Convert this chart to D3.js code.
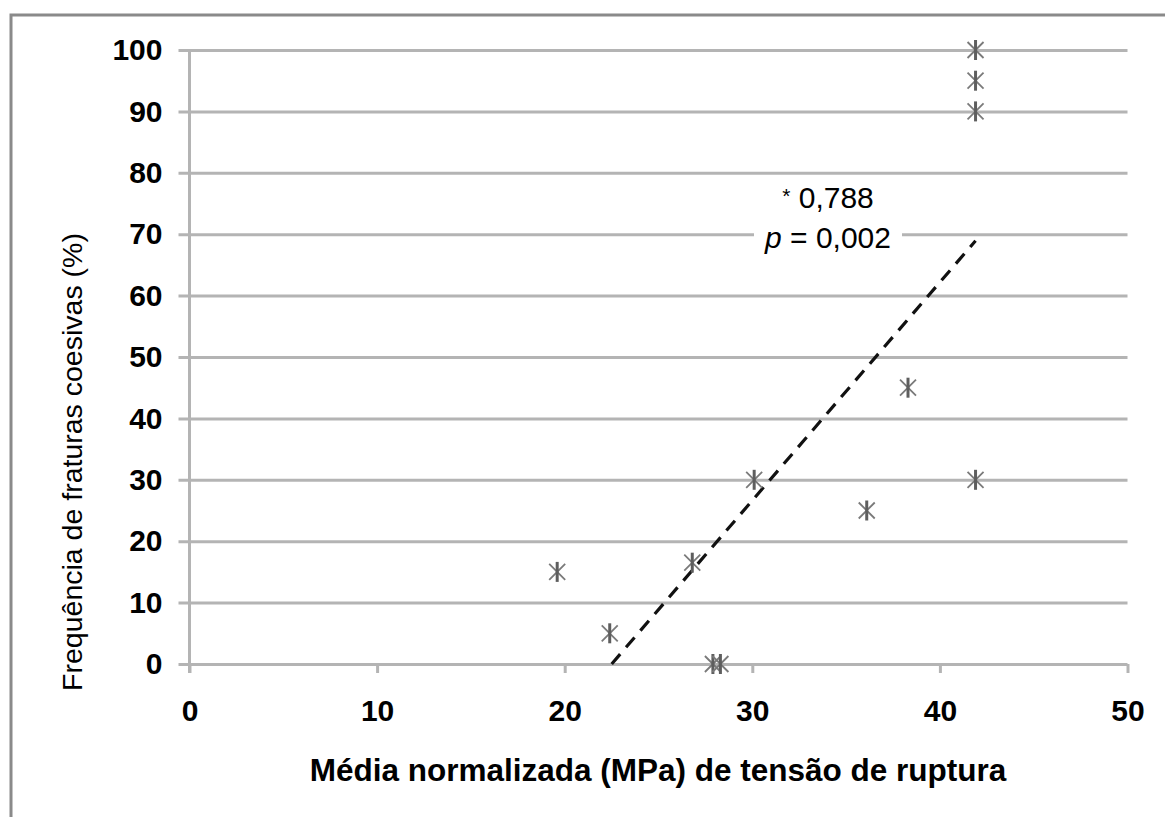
<!DOCTYPE html>
<html>
<head>
<meta charset="utf-8">
<script src="https://cdn.jsdelivr.net/npm/d3@7"></script>
<style>
  html, body { margin: 0; padding: 0; background: #fff; }
  svg { display: block; }
  text { font-family: "Liberation Sans", Arial, sans-serif; fill: #000; }
</style>
</head>
<body>
<svg id="chart" width="1165" height="817"></svg>
<script>
// Mean normalized rupture stress (MPa) for each group
const tensaoMedia = [41.9, 41.9, 41.9, 41.9, 38.3, 36.1, 30.1, 26.8, 19.6, 22.4, 27.9, 28.3];
// Frequency of cohesive fractures (%)
const fraturasCoesivas = [100, 95, 90, 30, 45, 25, 30, 16.5, 15, 5, 0, 0];

const xTicks = [0, 10, 20, 30, 40, 50];
const yTicks = [0, 10, 20, 30, 40, 50, 60, 70, 80, 90, 100];

const xTitle = "Média normalizada (MPa) de tensão de ruptura";
const yTitle = "Frequência de fraturas coesivas (%)";
const coefText = "0,788";
const pText = "0,002";

const points = tensaoMedia.map((x, i) => ({ x, y: fraturasCoesivas[i] }));

const svg = d3.select("#chart");
const plot = { left: 189.5, right: 1127.5, top: 50, bottom: 664 };

const x = d3.scaleLinear().domain([0, 50]).range([plot.left, plot.right]);
const y = d3.scaleLinear().domain([0, 100]).range([plot.bottom, plot.top]);

// outer frame (top and left edges visible)
svg.append("path")
  .attr("d", `M1165,15 H11 V817`)
  .attr("fill", "none")
  .attr("stroke", "#8a8a8a")
  .attr("stroke-width", 3);

const gridColor = "#b4b4b4";

// horizontal gridlines + y labels
const yAxis = d3.axisLeft(y)
  .tickValues(yTicks)
  .tickSize(plot.right - plot.left + 11)
  .tickPadding(16)
  .tickFormat(d3.format("d"));

const gy = svg.append("g")
  .attr("transform", `translate(${plot.right},0)`)
  .call(yAxis);
gy.select(".domain").remove();
gy.selectAll(".tick line").attr("stroke", gridColor).attr("stroke-width", 3);
gy.selectAll(".tick text")
  .attr("font-size", 30)
  .attr("font-weight", "bold")
  .attr("font-family", "'Liberation Sans', Arial, sans-serif")
  .attr("fill", "#000");

// x ticks and labels
const xAxis = d3.axisBottom(x)
  .tickValues(xTicks)
  .tickSize(9)
  .tickPadding(27)
  .tickFormat(d3.format("d"));

const gx = svg.append("g")
  .attr("transform", `translate(0,${plot.bottom})`)
  .call(xAxis);
gx.select(".domain").remove();
gx.selectAll(".tick line").attr("stroke", gridColor).attr("stroke-width", 3);
gx.selectAll(".tick text")
  .attr("font-size", 30)
  .attr("font-weight", "bold")
  .attr("font-family", "'Liberation Sans', Arial, sans-serif")
  .attr("fill", "#000");

// vertical axis line
svg.append("line")
  .attr("x1", x(0)).attr("x2", x(0))
  .attr("y1", y(100)).attr("y2", y(0) + 9)
  .attr("stroke", gridColor)
  .attr("stroke-width", 3);

// least-squares trend line, clipped to the visible y range
const mx = d3.mean(points, d => d.x);
const my = d3.mean(points, d => d.y);
const sxy = d3.sum(points, d => (d.x - mx) * (d.y - my));
const sxx = d3.sum(points, d => (d.x - mx) ** 2);
const slope = sxy / sxx;
const intercept = my - slope * mx;
const xMin = d3.min(points, d => d.x);
const xMax = d3.max(points, d => d.x);
const xStart = Math.max(xMin, -intercept / slope);
const trend = [xStart, xMax].map(v => ({ x: v, y: slope * v + intercept }));

// annotation with white backing
const ann = svg.append("g");
const annX = 828;
ann.append("rect")
  .attr("x", annX - 74).attr("y", y(74.5))
  .attr("width", 148).attr("height", y(65) - y(74.5))
  .attr("fill", "#fff");

const t1 = ann.append("text")
  .attr("x", annX).attr("y", 208)
  .attr("text-anchor", "middle")
  .attr("font-size", 30);
t1.append("tspan").attr("font-size", 21).attr("dy", -5).text("*");
t1.append("tspan").attr("dy", 5).text(" " + coefText);

const t2 = ann.append("text")
  .attr("x", annX).attr("y", 248)
  .attr("text-anchor", "middle")
  .attr("font-size", 30);
t2.append("tspan").attr("font-style", "italic").text("p");
t2.append("tspan").text(" = " + pText);

svg.append("path")
  .datum(trend)
  .attr("d", d3.line().x(d => x(d.x)).y(d => y(d.y)))
  .attr("fill", "none")
  .attr("stroke", "#111")
  .attr("stroke-width", 3.2)
  .attr("stroke-dasharray", "13,9");

// asterisk markers: heavy vertical bar with lighter diagonals
const marks = svg.append("g").selectAll("g")
  .data(points)
  .join("g")
  .attr("transform", d => `translate(${x(d.x)},${y(d.y)})`);

marks.append("path")
  .attr("d", "M-8,-8L8,8M8,-8L-8,8")
  .attr("stroke", "#7a7a7a")
  .attr("stroke-width", 1.8)
  .attr("fill", "none");
marks.append("path")
  .attr("d", "M0,-10V10")
  .attr("stroke", "#5e5e5e")
  .attr("stroke-width", 3)
  .attr("fill", "none");

// axis titles
svg.append("text")
  .attr("x", 658)
  .attr("y", 781)
  .attr("text-anchor", "middle")
  .attr("font-size", 31.5)
  .attr("font-weight", "bold")
  .text(xTitle);

svg.append("text")
  .attr("transform", `translate(82,${(y(0) + y(100)) / 2 + 105}) rotate(-90)`)
  .attr("text-anchor", "middle")
  .attr("font-size", 28.5)
  .text(yTitle);
</script>
</body>
</html>
